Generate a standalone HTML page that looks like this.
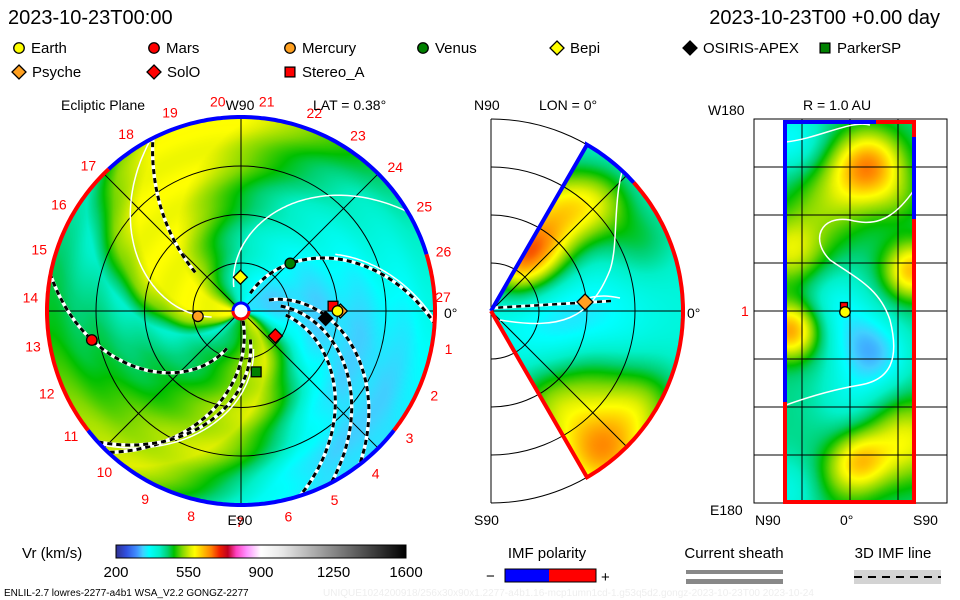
<!DOCTYPE html>
<html><head><meta charset="utf-8">
<style>
html,body{margin:0;padding:0;background:#fff;}
#wrap{position:relative;width:960px;height:600px;overflow:hidden;font-family:"Liberation Sans",sans-serif;}
canvas,svg{position:absolute;left:0;top:0;}
svg text{font-family:"Liberation Sans",sans-serif;}
</style></head><body>
<div id="wrap">
<canvas id="cv" width="960" height="600"></canvas>
<svg id="sv" width="960" height="600" viewBox="0 0 960 600">
<defs>
<linearGradient id="cbar" x1="0" x2="1" y1="0" y2="0"></linearGradient>
<clipPath id="circClip"><circle cx="241" cy="311" r="194"/></clipPath>
</defs>
<text x="8" y="24" font-size="20">2023-10-23T00:00</text>
<text x="940" y="24" font-size="20" text-anchor="end">2023-10-23T00 +0.00 day</text>
<g id="legend" font-size="15"></g>
<g id="left"></g>
<g id="mid"></g>
<g id="right"></g>
<g id="bottom"></g>
</svg>
</div>
<script>
// ---- data arrays ----
const cmapVals  = [200,250,300,330,360,410,450,480,520,560,580,620,660,700,740,780,830,900,1000,1600];
const cmapCols  = ["#303090","#3050e0","#4090ff","#40d0ff","#00ffff","#00f0c8","#00d070","#00c000","#80d800","#e0f000","#ffff00","#ffc000","#ff8000","#f02000","#c00020","#ff40c0","#ff90ff","#ffffff","#e8e8e8","#000000"];
const psiStops  = [0,20,45,70,95,120,140,160,175,200,215,230,250,270,300,320,340,360];
const psiSpeeds = [365,335,335,355,385,420,470,530,575,575,520,410,450,470,530,555,470,365];
const bodyNames = ["Mercury","Bepi","Venus","SolO","ParkerSP","Mars","OSIRIS-APEX","Psyche","Stereo_A","Earth"];
const bodyR     = [0.45,0.35,0.71,0.44,0.65,1.575,0.88,1.03,0.955,1.0];
const bodyLon   = [187,91,44,-36,-76,191,-5,0,3,0];
const bodyShape = ["circle","diamond","circle","diamond","square","circle","diamond","diamond","square","circle"];
const bodyColor = ["#ffa020","#ffff00","#008000","#ff0000","#008000","#ff0000","#000000","#ffa020","#ff0000","#ffff00"];
const linePhi0  = [70,35,25,15,-75,-90,150,-60];
const lineSlope = [-0.38,-0.45,-0.45,-0.45,-0.3,-0.52,-0.17,-0.4];
const lineR0    = [20,30,40,45,10,40,60,30];
const cbTicks   = [200,550,900,1250,1600];
const midBlobs  = [[80,-20,50,-60],[40,60,25,220],[70,100,30,170],[110,110,25,90],[150,70,25,60],[110,-140,35,240],[60,-90,30,120],[150,-90,30,110],[100,-60,25,60],[20,40,20,90]];
const rightBlobs= [[790,140,25,-80],[868,165,25,200],[830,200,30,80],[835,300,25,-60],[860,340,25,-70],[880,360,25,-70],[850,400,25,-50],[790,330,20,200],[790,250,25,120],[912,270,20,180],[905,440,30,130],[860,460,20,120],[790,490,25,-60],[900,200,20,40],[840,480,25,60]];

const NS="http://www.w3.org/2000/svg";
function hex(c){return [parseInt(c.substr(1,2),16),parseInt(c.substr(3,2),16),parseInt(c.substr(5,2),16)];}
const cmapRGB=cmapCols.map(hex);
function cmap(v){
  if(v<=cmapVals[0])return cmapRGB[0];
  for(let i=1;i<cmapVals.length;i++){if(v<=cmapVals[i]){const t=(v-cmapVals[i-1])/(cmapVals[i]-cmapVals[i-1]);const a=cmapRGB[i-1],b=cmapRGB[i];return [a[0]+(b[0]-a[0])*t,a[1]+(b[1]-a[1])*t,a[2]+(b[2]-a[2])*t];}}
  return cmapRGB[cmapRGB.length-1];
}
function psiSpeed(p){for(let i=1;i<psiStops.length;i++){if(p<=psiStops[i]){const t=(p-psiStops[i-1])/(psiStops[i]-psiStops[i-1]);return psiSpeeds[i-1]+(psiSpeeds[i]-psiSpeeds[i-1])*t;}}return psiSpeeds[0];}
function blobs(list,x,y,base){let v=base;for(const b of list){const d=(x-b[0])**2+(y-b[1])**2;v+=b[3]*Math.exp(-d/(2*b[2]*b[2]));}return v;}

// ---- canvas field ----
const cv=document.getElementById('cv'),ctx=cv.getContext('2d');
const img=ctx.createImageData(960,600),D=img.data;
const LCX=241,LCY=311,LR=194,AU=96.5,MCX=491,MCY=311,MR=192;
for(let y=0;y<600;y++)for(let x=0;x<960;x++){
  let v=null;
  const dx=x-LCX,dy=LCY-y,r=Math.hypot(dx,dy);
  if(r<=LR){let phi=Math.atan2(dy,dx)*180/Math.PI;let psi=((phi+0.45*r)%360+360)%360;v=psiSpeed(psi)+6*Math.sin(r/7);}
  const mx=x-MCX,my=MCY-y,mr=Math.hypot(mx,my);
  if(mx>=0&&mr<=MR&&Math.abs(Math.atan2(my,mx))<=Math.PI/3){v=blobs(midBlobs,mx,my,395);}
  if(x>=785&&x<=914&&y>=122&&y<=502){v=blobs(rightBlobs,x,y,440);}
  const k=(y*960+x)*4;
  if(v===null){D[k]=D[k+1]=D[k+2]=255;}else{const c=cmap(v);D[k]=c[0];D[k+1]=c[1];D[k+2]=c[2];}
  D[k+3]=255;
}
ctx.putImageData(img,0,0);

function el(tag,attrs,parent){const e=document.createElementNS(NS,tag);for(const k in attrs)e.setAttribute(k,attrs[k]);parent.appendChild(e);return e;}
function txt(s,x,y,attrs,parent){const t=el('text',Object.assign({x:x,y:y},attrs),parent);t.textContent=s;return t;}
function marker(shape,color,x,y,s,parent){
  if(shape==="circle")return el('circle',{cx:x,cy:y,r:s*0.75,fill:color,stroke:"#000","stroke-width":1.3},parent);
  if(shape==="square")return el('rect',{x:x-s*0.7,y:y-s*0.7,width:s*1.4,height:s*1.4,fill:color,stroke:"#000","stroke-width":1.3},parent);
  return el('polygon',{points:`${x},${y-s} ${x+s},${y} ${x},${y+s} ${x-s},${y}`,fill:color,stroke:"#000","stroke-width":1.3},parent);
}

// ---- legend ----
const lg=document.getElementById('legend');
const legItems=[["Earth","circle","#ffff00",19,48],["Mars","circle","#ff0000",154,48],["Mercury","circle","#ffa020",290,48],["Venus","circle","#008000",423,48],["Bepi","diamond","#ffff00",557,48],["OSIRIS-APEX","diamond","#000000",690,48],["ParkerSP","square","#008000",825,48],["Psyche","diamond","#ffa020",19,72],["SolO","diamond","#ff0000",154,72],["Stereo_A","square","#ff0000",290,72]];
legItems.forEach(it=>{
  const g=el('g',{},lg);
  
  
  marker(it[1],it[2],it[3],it[4],7,g);
  txt(it[0],it[3]+(it[1]==="diamond"?13:12),it[4]+5,{"font-size":15},g);
});

// ---- left panel ----
const L=document.getElementById('left');
const lgG=el('g',{"clip-path":"url(#circClip)",stroke:"#000","stroke-width":1,fill:"none"},L);


[48,96.5,145].forEach(r=>el('circle',{cx:LCX,cy:LCY,r:r},lgG));
[0,45,90,135].forEach(a=>{const c=Math.cos(a*Math.PI/180)*LR,s=Math.sin(a*Math.PI/180)*LR;el('line',{x1:LCX-c,y1:LCY+s,x2:LCX+c,y2:LCY-s},lgG);});
function spiralPts(phi0,slope,r0,r1,cx,cy){let p=[];for(let r=r0;r<=r1;r+=2){const a=(phi0+slope*r)*Math.PI/180;p.push((cx+r*Math.cos(a)).toFixed(1)+","+(cy-r*Math.sin(a)).toFixed(1));}return p.join(" ");}
const whiteG=el('g',{"clip-path":"url(#circClip)",fill:"none",stroke:"#fff","stroke-width":1.5},L);


[[118,-0.45,25,194],[205,-0.45,30,194],[-55,-0.42,40,194],[75,-0.4,110,194]].forEach(s=>el('polyline',{points:spiralPts(s[0],s[1],s[2],s[3],LCX,LCY)},whiteG));
const flG=el('g',{"clip-path":"url(#circClip)",fill:"none"},L);


for(let i=0;i<linePhi0.length;i++){
  const pts=spiralPts(linePhi0[i],lineSlope[i],lineR0[i],196,LCX,LCY);
  el('polyline',{points:pts,stroke:"#fff","stroke-width":3.5},flG);
  const d=el('polyline',{points:pts,stroke:"#000","stroke-width":3,"stroke-dasharray":"5,4"},flG);
  
  
}
function arc(cx,cy,r,a0,a1){const p=[];const n=Math.max(8,Math.abs(a1-a0));for(let i=0;i<=n;i++){const a=(a0+(a1-a0)*i/n)*Math.PI/180;p.push((cx+r*Math.cos(a)).toFixed(1)+","+(cy-r*Math.sin(a)).toFixed(1));}return p.join(" ");}
[[17,133,"#0000ff"],[-38,17,"#ff0000"],[-142,-38,"#0000ff"],[133,218,"#ff0000"]].forEach(s=>{
  const a=el('polyline',{points:arc(LCX,LCY,LR,s[0],s[1]),fill:"none",stroke:s[2],"stroke-width":4},L);
  
  
});
el('circle',{cx:LCX,cy:LCY,r:8,fill:"#fff",stroke:"#0000ff","stroke-width":3},L);
el('path',{d:`M${LCX-8},${LCY} A8,8 0 0,0 ${LCX+8},${LCY}`,fill:"none",stroke:"#ff0000","stroke-width":3},L);
for(let n=1;n<=27;n++){
  const a=(3+(27-n)*13.333)*Math.PI/180;
  if(n===27){txt("27",443,302,{"font-size":14,fill:"#ff0000","text-anchor":"middle"},L);continue;}
  const t=txt(String(n),LCX+211*Math.cos(a),LCY-211*Math.sin(a)+5,{"font-size":14,fill:"#ff0000","text-anchor":"middle"},L);
  
  
}
txt("Ecliptic Plane",61,110,{"font-size":14},L);
txt("W90",240,110,{"font-size":14,"text-anchor":"middle"},L);
txt("LAT = 0.38°",313,110,{"font-size":14},L);
txt("E90",240,525,{"font-size":14,"text-anchor":"middle"},L);
txt("0°",444,318,{"font-size":14},L);
for(let i=0;i<bodyNames.length;i++){
  const a=bodyLon[i]*Math.PI/180;
  const m=marker(bodyShape[i],bodyColor[i],LCX+bodyR[i]*AU*Math.cos(a),LCY-bodyR[i]*AU*Math.sin(a),7,L);
  
  
}

// ---- middle panel ----
const M=document.getElementById('mid');
const mg=el('g',{stroke:"#000","stroke-width":1,fill:"none"},M);


[48,96,144,192].forEach(r=>el('path',{d:`M${MCX},${MCY-r} A${r},${r} 0 0,1 ${MCX},${MCY+r}`},mg));
el('line',{x1:MCX,y1:MCY-192,x2:MCX,y2:MCY+192},mg);
el('line',{x1:MCX,y1:MCY,x2:MCX+192,y2:MCY},mg);
[45,-45].forEach(a=>el('line',{x1:MCX,y1:MCY,x2:MCX+192*Math.cos(a*Math.PI/180),y2:MCY-192*Math.sin(a*Math.PI/180)},mg));
el('path',{d:"M580,300 C600,294 610,296 620,298",stroke:"#fff","stroke-width":1.5,fill:"none"},M);
el('path',{d:`M${MCX+120},${MCY-10} L${MCX},${MCY-3}`,stroke:"#fff","stroke-width":3,fill:"none"},M);
el('path',{d:`M${MCX+120},${MCY-10} L${MCX},${MCY-3}`,stroke:"#000","stroke-width":2.5,"stroke-dasharray":"5,4",fill:"none"},M);
el('path',{d:"M630,150 C610,190 620,240 610,270 C590,320 560,330 500,320",stroke:"#fff","stroke-width":1.5,fill:"none"},M);
const c60=Math.cos(Math.PI/3),s60=Math.sin(Math.PI/3);
el('polyline',{points:`${MCX},${MCY} ${MCX+MR*c60},${MCY-MR*s60} `+arc(MCX,MCY,MR,60,42),fill:"none",stroke:"#0000ff","stroke-width":4},M);
el('polyline',{points:arc(MCX,MCY,MR,42,-60)+` ${MCX},${MCY}`,fill:"none",stroke:"#ff0000","stroke-width":4},M);
marker("diamond","#ffa020",585,302,8,M);
txt("N90",474,110,{"font-size":14},M);
txt("LON = 0°",539,110,{"font-size":14},M);
txt("0°",687,318,{"font-size":14},M);
txt("S90",474,525,{"font-size":14},M);

// ---- right panel ----
const R=document.getElementById('right');
const rg=el('g',{stroke:"#000","stroke-width":1,fill:"none"},R);


el('rect',{x:754,y:119,width:193,height:384},rg);
[802,850,898].forEach(x=>el('line',{x1:x,y1:119,x2:x,y2:503},rg));
[167,215,263,311,359,407,455].forEach(y=>el('line',{x1:754,y1:y,x2:947,y2:y},rg));
el('path',{d:"M786,142 C820,138 850,120 870,125",stroke:"#fff","stroke-width":1.5,fill:"none"},R);
el('path',{d:"M914,190 C890,225 870,225 850,220 C820,215 810,240 830,260 C860,280 880,290 890,320 C900,360 890,380 860,385 C830,390 800,400 786,405",stroke:"#fff","stroke-width":1.5,fill:"none"},R);
el('polyline',{points:"785,402 785,122 840,122",fill:"none",stroke:"#0000ff","stroke-width":4},R);
el('polyline',{points:"840,122 876,122",fill:"none",stroke:"#0000ff","stroke-width":4},R);
el('polyline',{points:"876,122 914,122 914,137",fill:"none",stroke:"#ff0000","stroke-width":4},R);
el('polyline',{points:"914,137 914,219",fill:"none",stroke:"#0000ff","stroke-width":4},R);
el('polyline',{points:"914,219 914,502 785,502 785,402",fill:"none",stroke:"#ff0000","stroke-width":4},R);
el('polyline',{points:"785,122 785,402",fill:"none",stroke:"#0000ff","stroke-width":4},R);
marker("square","#ff0000",844,306,5,R);
marker("circle","#ffff00",845,312,7,R);
txt("W180",708,115,{"font-size":14},R);
txt("R = 1.0 AU",803,110,{"font-size":14},R);
txt("1",741,316,{"font-size":14,fill:"#ff0000"},R);
txt("E180",710,515,{"font-size":14},R);
txt("N90",755,525,{"font-size":14},R);
txt("0°",840,525,{"font-size":14},R);
txt("S90",913,525,{"font-size":14},R);

// ---- bottom: colorbar & legends ----
const B=document.getElementById('bottom');
const grad=document.getElementById('cbar');
for(let i=0;i<cmapVals.length;i++){el('stop',{offset:((cmapVals[i]-200)/1400*100).toFixed(2)+"%","stop-color":cmapCols[i]},grad);}
txt("Vr (km/s)",22,558,{"font-size":15},B);
const cb=el('rect',{x:116,y:545,width:290,height:13,fill:"url(#cbar)",stroke:"#000","stroke-width":1},B);


cbTicks.forEach(v=>{const t=txt(String(v),116+(v-200)/1400*290,577,{"font-size":15,"text-anchor":"middle"},B);});
txt("IMF polarity",547,558,{"font-size":15,"text-anchor":"middle"},B);
txt("−",486,581,{"font-size":15},B);
el('rect',{x:505,y:569,width:44,height:13,fill:"#0000ff"},B);
el('rect',{x:549,y:569,width:47,height:13,fill:"#ff0000"},B);
el('rect',{x:505,y:569,width:91,height:13,fill:"none",stroke:"#000","stroke-width":1},B);
txt("+",601,582,{"font-size":15},B);
txt("Current sheath",734,558,{"font-size":15,"text-anchor":"middle"},B);
el('rect',{x:686,y:570,width:97,height:4,fill:"#888"},B);
el('rect',{x:686,y:579,width:97,height:5,fill:"#888"},B);
txt("3D IMF line",893,558,{"font-size":15,"text-anchor":"middle"},B);
el('rect',{x:854,y:570,width:87,height:14,fill:"#d3d3d3"},B);
el('line',{x1:854,y1:577,x2:941,y2:577,stroke:"#000","stroke-width":2,"stroke-dasharray":"8,6"},B);
txt("ENLIL-2.7 lowres-2277-a4b1 WSA_V2.2 GONGZ-2277",4,596,{"font-size":10},B);
txt("UNIQUE1024200918/256x30x90x1.2277-a4b1.16-mcp1umn1cd-1.g53q5d2.gongz-2023-10-23T00   2023-10-24",323,596,{"font-size":10,fill:"#eeeeee"},B);
</script>
</body></html>
